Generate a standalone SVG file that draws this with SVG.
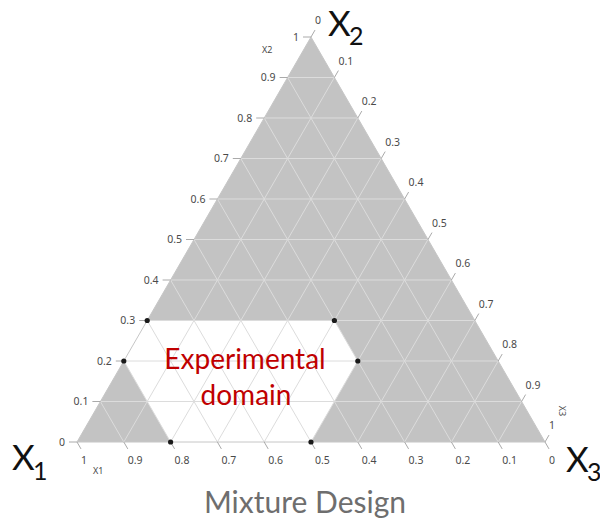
<svg xmlns="http://www.w3.org/2000/svg" width="600" height="525" viewBox="0 0 600 525">
<style>
.tick{font-family:"Noto Sans","Open Sans",sans-serif;font-size:10.5px;fill:#4a4a4a}
.ax{font-family:"Noto Sans","Open Sans",sans-serif;font-size:9px;fill:#4a4a4a}
.big{font-family:Lato,"Liberation Sans",sans-serif;fill:#111}
.grid{fill:none;stroke:#dcdcdc;stroke-width:1}
.tk{fill:none;stroke:#aaaaaa;stroke-width:1}
.dot{fill:#1a1a1a}
</style>
<rect width="600" height="525" fill="#ffffff"/>
<g id="regions">
<path d="M77 442 L311 37 L545 442 Z M147.2 320.5 L334.4 320.5 L357.8 361 L311 442 L170.6 442 L123.8 361 Z" fill="#c3c3c3" fill-rule="evenodd"/>
</g>
<g id="grid">
<path class="grid" d="M100.4 401.5H521.6M123.8 361H498.2M147.2 320.5H474.8M170.6 280H451.4M194 239.5H428M217.4 199H404.6M240.8 158.5H381.2M264.2 118H357.8M287.6 77.5H334.4
M123.8 442L334.4 77.5M170.6 442L357.8 118M217.4 442L381.2 158.5M264.2 442L404.6 199M311 442L428 239.5M357.8 442L451.4 280M404.6 442L474.8 320.5M451.4 442L498.2 361M498.2 442L521.6 401.5
M287.6 77.5L498.2 442M264.2 118L451.4 442M240.8 158.5L404.6 442M217.4 199L357.8 442M194 239.5L311 442M170.6 280L264.2 442M147.2 320.5L217.4 442M123.8 361L170.6 442M100.4 401.5L123.8 442"/>
<path d="M77 442 L311 37 L545 442 Z" fill="none" stroke="#c6c6c6" stroke-width="1"/>
</g>
<g id="ticks">
<path class="tk" d="M69 442h8M92.4 401.5h8M115.8 361h8M139.2 320.5h8M162.6 280h8M186 239.5h8M209.4 199h8M232.8 158.5h8M256.2 118h8M279.6 77.5h8M303 37h8
M311 37l4 -6.93M334.4 77.5l4 -6.93M357.8 118l4 -6.93M381.2 158.5l4 -6.93M404.6 199l4 -6.93M428 239.5l4 -6.93M451.4 280l4 -6.93M474.8 320.5l4 -6.93M498.2 361l4 -6.93M521.6 401.5l4 -6.93M545 442l4 -6.93
M77 442l4 6.93M123.8 442l4 6.93M170.6 442l4 6.93M217.4 442l4 6.93M264.2 442l4 6.93M311 442l4 6.93M357.8 442l4 6.93M404.6 442l4 6.93M451.4 442l4 6.93M498.2 442l4 6.93M545 442l4 6.93"/>
</g>
<g id="axis-x2-labels" class="tick" text-anchor="end">
<text x="65" y="445.5">0</text>
<text x="88.4" y="405">0.1</text>
<text x="111.8" y="364.5">0.2</text>
<text x="135.2" y="324">0.3</text>
<text x="158.6" y="283.5">0.4</text>
<text x="182" y="243">0.5</text>
<text x="205.4" y="202.5">0.6</text>
<text x="228.8" y="162">0.7</text>
<text x="252.2" y="121.5">0.8</text>
<text x="275.6" y="81">0.9</text>
<text x="299" y="40.5">1</text>
</g>
<g id="axis-x3-labels" class="tick">
<text x="315" y="24">0</text>
<text x="338.4" y="64.5">0.1</text>
<text x="361.8" y="105">0.2</text>
<text x="385.2" y="145.5">0.3</text>
<text x="408.6" y="186">0.4</text>
<text x="432" y="226.5">0.5</text>
<text x="455.4" y="267">0.6</text>
<text x="478.8" y="307.5">0.7</text>
<text x="502.2" y="348">0.8</text>
<text x="525.6" y="388.5">0.9</text>
<text x="549" y="429">1</text>
</g>
<g id="axis-x1-labels" class="tick">
<text x="81" y="464">1</text>
<text x="127.8" y="464">0.9</text>
<text x="174.6" y="464">0.8</text>
<text x="221.4" y="464">0.7</text>
<text x="268.2" y="464">0.6</text>
<text x="315" y="464">0.5</text>
<text x="361.8" y="464">0.4</text>
<text x="408.6" y="464">0.3</text>
<text x="455.4" y="464">0.2</text>
<text x="502.2" y="464">0.1</text>
<text x="549" y="464">0</text>
</g>
<g id="axis-titles" class="ax">
<text x="262" y="52.5">X2</text>
<text x="93" y="474">X1</text>
<text transform="translate(558.5 411) rotate(90)" text-anchor="middle">X3</text>
</g>
<g id="domain-vertices">
<circle class="dot" cx="147.2" cy="320.5" r="2.6"/>
<circle class="dot" cx="334.4" cy="320.5" r="2.6"/>
<circle class="dot" cx="357.8" cy="361" r="2.6"/>
<circle class="dot" cx="311" cy="442" r="2.6"/>
<circle class="dot" cx="170.6" cy="442" r="2.6"/>
<circle class="dot" cx="123.8" cy="361" r="2.6"/>
</g>
<g id="domain-label" font-family="Lato,'Liberation Sans',sans-serif" font-size="28" fill="#c00000" text-anchor="middle">
<text x="245" y="369">Experimental</text>
<text x="246" y="405">domain</text>
</g>
<g id="vertex-x1" class="big"><text x="12" y="470" font-size="35">X</text><text x="33" y="480" font-size="25">1</text></g>
<g id="vertex-x2" class="big"><text x="328" y="36" font-size="35">X</text><text x="349" y="45" font-size="25">2</text></g>
<g id="vertex-x3" class="big"><text x="566" y="472" font-size="35">X</text><text x="587" y="481" font-size="25">3</text></g>
<g id="caption"><text x="305" y="513" font-family="Lato,'Liberation Sans',sans-serif" font-size="30" fill="#6e6e6e" text-anchor="middle">Mixture Design</text></g>
</svg>
